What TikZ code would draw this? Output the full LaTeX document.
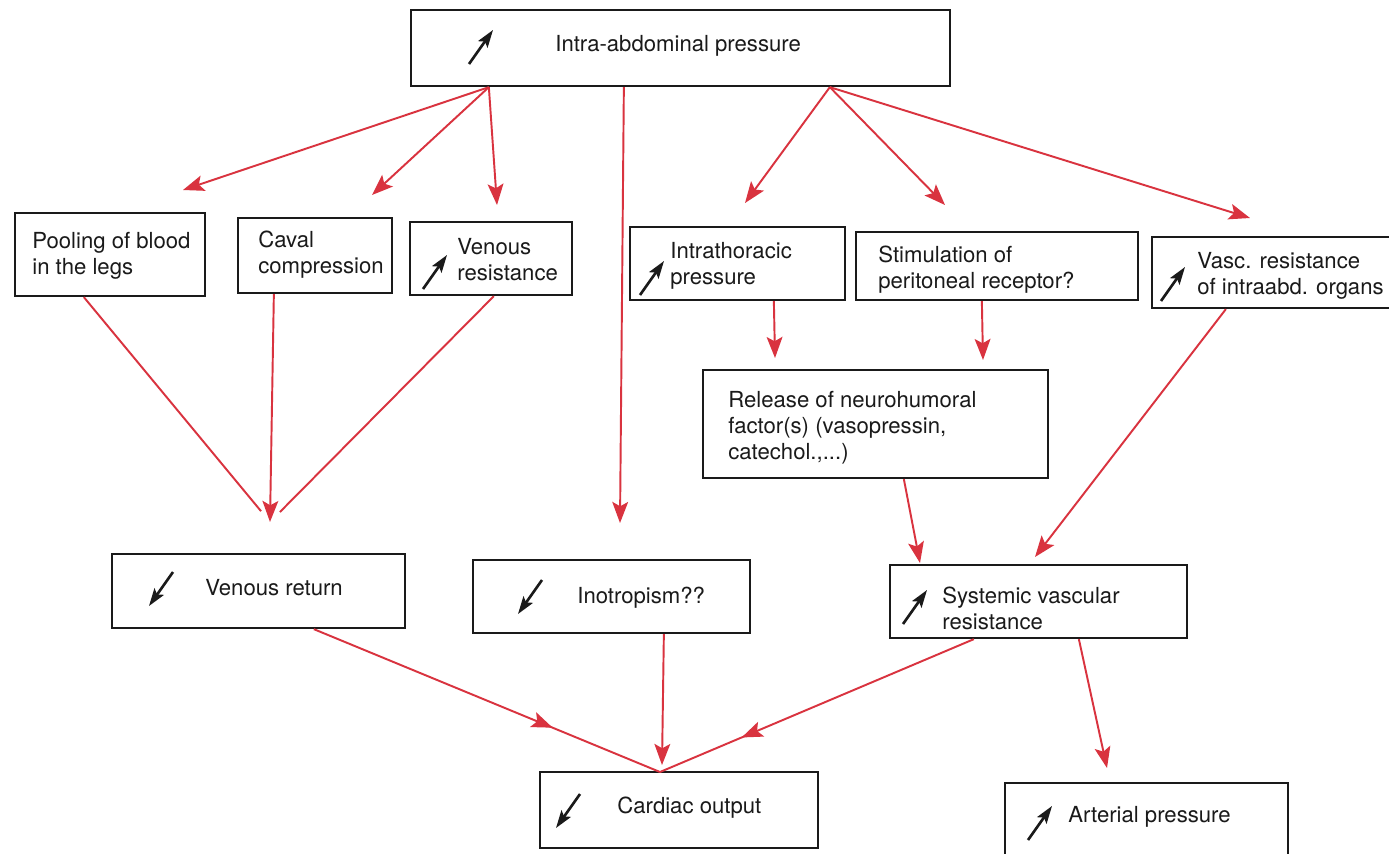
\documentclass[tikz,border=0pt]{standalone}
\usepackage{fontspec}
\setmainfont{TeX Gyre Heros}
\usetikzlibrary{arrows.meta}
\usetikzlibrary{calc}
\usetikzlibrary{fit}
\usetikzlibrary{decorations.markings}
\definecolor{flowred}{HTML}{D9333F}
\definecolor{boxink}{HTML}{1A1A1A}
\tikzset{
  box/.style={draw=boxink, line width=1.3pt, inner sep=0pt},
  lbl/.style={anchor=west, align=left, inner sep=0pt, text=boxink,
    font=\fontsize{12.6}{14.8}\selectfont},
  flow/.style={draw=flowred, line width=1.1pt},
  flowarr/.style={flow, -{Stealth[length=12pt, width=9pt, inset=2.5pt]}},
  midarr/.style={flow, postaction={decorate}, decoration={markings,
    mark=at position #1 with
      {\arrow[flowred]{Stealth[length=12pt, width=9pt, inset=2.5pt]}}}},
  icon/.style={draw=boxink, line width=1.5pt,
    -{Stealth[length=10pt, width=6.5pt, inset=2pt]}},
  uparr/.pic={\draw[icon] (-12,17) -- (12,-17);},
  downarr/.pic={\draw[icon] (12,-17) -- (-12,17);},
}

\begin{document}
\begin{tikzpicture}[x=0.02cm, y=-0.02cm]

\path[use as bounding box, fill=white] (0,0) rectangle (1389,853);

% Top.
\node[box, fit={(411,10) (950,86)}] (ia) {};
\pic at (481,47) {uparr};
\node[lbl] (iat) at (555,46) {Intra-abdominal pressure};

% ------------------------------------------------------- second row
\node[box, fit={(15,213) (205,296)}] (pool) {};
\node[lbl] (poolt) at (32,256) {Pooling of blood\\in the legs};

\node[box, fit={(238,218) (392,293)}] (caval) {};
\node[lbl] (cavalt) at (258,255) {Caval\\compression};

\node[box, fit={(410,222) (572,295)}] (venres) {};
\pic at (435,272) {uparr};
\node[lbl] (venrest) at (457,260) {Venous\\resistance};

\node[box, fit={(630,227) (845,300)}] (ith) {};
\pic at (652,278) {uparr};
\node[lbl] (itht) at (670,266) {Intrathoracic\\pressure};

\node[box, fit={(856,232) (1138,300)}] (stim) {};
\node[lbl] (stimt) at (878,270) {Stimulation of\\peritoneal receptor?};

\node[box, fit={(1152,237) (1395,308)}] (vasc) {};
\pic at (1173,284) {uparr};
\node[lbl] (vasct) at (1197,276) {Vasc. resistance\\of intraabd. organs};

% ------------------------------------------------------- middle
\node[box, fit={(703,370) (1048,478)}] (rel) {};
\node[lbl] (relt) at (728,428)
  {Release of neurohumoral\\factor(s) (vasopressin,\\catechol.,...)};

\node[box, fit={(112,554) (405,628)}] (vr) {};
\pic at (161,589) {downarr};
\node[lbl] (vrt) at (205,588) {Venous return};

\node[box, fit={(473,560) (750,633)}] (ino) {};
\pic at (530,597) {downarr};
\node[lbl] (inot) at (577,598) {Inotropism??};

\node[box, fit={(890,565) (1187,638)}] (svr) {};
\pic at (915,607) {uparr};
\node[lbl] (svrt) at (942,608) {Systemic vascular\\resistance};

% ------------------------------------------------------- bottom
\node[box, fit={(540,772) (818,848)}] (co) {};
\pic at (568,811) {downarr};
\node[lbl] (cot) at (617,808) {Cardiac output};

\node[box, fit={(1005,783) (1288,870)}] (ap) {};
\pic at (1040,823) {uparr};
\node[lbl] (apt) at (1068,817) {Arterial pressure};

% Free arrow ends.
\coordinate (poolin) at (183,190);
\coordinate (cavalin) at (372,195);
\coordinate (venresin) at (497,205);
\coordinate (inoin) at (620,523);
\coordinate (ithin) at (745,203);
\coordinate (stimin) at (945,205);
\coordinate (vascin) at (1250,218);
\coordinate (vrjoin) at (270,522);
\coordinate (relin1) at (775,358);
\coordinate (relin2) at (983,360);
\coordinate (svrin1) at (920,563);
\coordinate (svrin2) at (1035,557);
\coordinate (cojoin) at (660,772);
\coordinate (coin) at (662,765);
\coordinate (apin) at (1107,768);

% Connectors.
\draw[flowarr] ($(ia.south west)+(79,0)$) -- (poolin);
\draw[flowarr] ($(ia.south west)+(79,0)$) -- (cavalin);
\draw[flowarr] ($(ia.south west)+(79,0)$) -- (venresin);
\draw[flowarr] ($(ia.south west)+(214,0)$) -- (inoin);
\draw[flowarr] ($(ia.south west)+(420,0)$) -- (ithin);
\draw[flowarr] ($(ia.south west)+(420,0)$) -- (stimin);
\draw[flowarr] ($(ia.south west)+(420,0)$) -- (vascin);

\draw[flow, shorten >=8pt] ($(pool.south west)+(70,0)$) -- (vrjoin);
\draw[flow, shorten >=8pt] ($(venres.south west)+(85,0)$) -- (vrjoin);
\draw[flowarr] ($(caval.south west)+(37,0)$) -- (vrjoin);

\draw[flowarr] ($(ith.south west)+(145,0)$) -- (relin1);
\draw[flowarr] ($(stim.south west)+(127,0)$) -- (relin2);
\draw[flowarr] ($(rel.south west)+(202,0)$) -- (svrin1);
\draw[flowarr] ($(vasc.south west)+(75,0)$) -- (svrin2);

\draw[midarr=0.69] ($(vr.south west)+(203,0)$) -- (cojoin);
\draw[flowarr] ($(ino.south west)+(192,0)$) -- (coin);
\draw[midarr=0.74] ($(svr.south west)+(85,0)$) -- (cojoin);
\draw[flowarr] ($(svr.south west)+(190,0)$) -- (apin);

\end{tikzpicture}
\end{document}
